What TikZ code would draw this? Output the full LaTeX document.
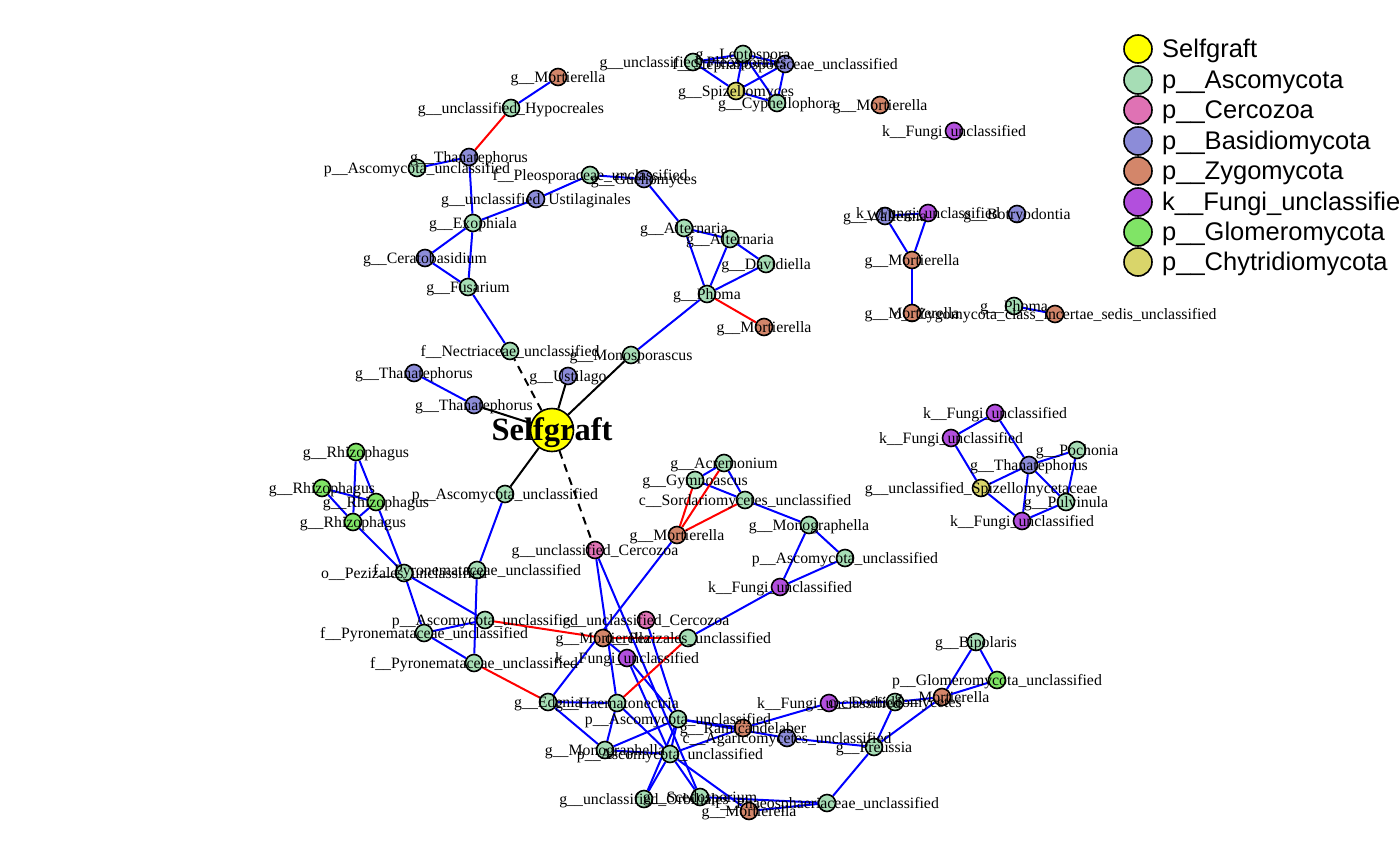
\documentclass[tikz,border=0pt]{standalone}
\usepackage{fontspec}
\setmainfont{Liberation Serif}
\newfontfamily\legendfont{Liberation Sans}
\pgfdeclarelayer{bg}
\pgfdeclarelayer{paper}
\pgfsetlayers{paper,bg,main}
\definecolor{casc}{HTML}{A6DDB5}
\definecolor{ccer}{HTML}{DF72B4}
\definecolor{cbas}{HTML}{8C8CD8}
\definecolor{czyg}{HTML}{D3866A}
\definecolor{cfun}{HTML}{B24FDD}
\definecolor{cglo}{HTML}{80E466}
\definecolor{cchy}{HTML}{D9D56A}
\definecolor{csel}{HTML}{FFFF00}
\tikzset{
  vtx/.style={circle, draw=black, line width=1.6pt, minimum size=17pt, inner sep=0pt},
  nasc/.style={fill=casc}, ncer/.style={fill=ccer}, nbas/.style={fill=cbas},
  nzyg/.style={fill=czyg}, nfun/.style={fill=cfun}, nglo/.style={fill=cglo},
  nchy/.style={fill=cchy}, nsel/.style={fill=csel},
  lbl/.style={anchor=base, inner sep=0pt, font=\fontsize{15.8}{15.8}\selectfont},
  eb/.style={draw=blue, line width=2pt},
  er/.style={draw=red, line width=2pt},
  ek/.style={draw=black, line width=2pt},
  ekd/.style={draw=black, line width=2pt, dash pattern=on 8pt off 6pt},
  legc/.style={circle, draw=black, line width=1.6pt, minimum size=28pt, inner sep=0pt},
  legt/.style={anchor=base west, inner sep=0pt, font=\legendfont\fontsize{25.5}{25.5}\selectfont},
}
\def\vlist{%
a1/558/77/nzyg/{g\_\_Mortierella},
a2/511/108/nasc/{g\_\_unclassified\_Hypocreales},
a3/469/157/nbas/{g\_\_Thanatephorus},
a4/417/168/nasc/{p\_\_Ascomycota\_unclassified},
a5/590/175/nasc/{f\_\_Pleosporaceae\_unclassified},
a6/644/179/nbas/{g\_\_Guehomyces},
a7/536/199/nbas/{g\_\_unclassified\_Ustilaginales},
a8/473/223/nasc/{g\_\_Exophiala},
a9/425/258/nbas/{g\_\_Ceratobasidium},
a10/468/287/nasc/{g\_\_Fusarium},
a11/510/351/nasc/{f\_\_Nectriaceae\_unclassified},
a12/414/373/nbas/{g\_\_Thanatephorus},
a13/474/405/nbas/{g\_\_Thanatephorus},
a14/568/376/nbas/{g\_\_Ustilago},
a15/631/355/nasc/{g\_\_Monosporascus},
a16/684/228/nasc/{g\_\_Alternaria},
a17/730/239/nasc/{g\_\_Alternaria},
a18/766/264/nasc/{g\_\_Davidiella},
a19/707/294/nasc/{g\_\_Phoma},
a20/764/327/nzyg/{g\_\_Mortierella},
b1/693/62/nasc/{g\_\_unclassified\_Pleosporales},
b2/743/54/nasc/{g\_\_Leptospora},
b3/785/64/nbas/{f\_\_Stephanosporaceae\_unclassified},
b4/736/91/nchy/{g\_\_Spizellomyces},
b5/777/103/nasc/{g\_\_Cyphellophora},
b6/880/105/nzyg/{g\_\_Mortierella},
b7/954/131/nfun/{k\_\_Fungi\_unclassified},
c1/885/216/nbas/{g\_\_Wallemia},
c2/928/213/nfun/{k\_\_Fungi\_unclassified},
c3/1017/214/nbas/{g\_\_Botryodontia},
c4/912/260/nzyg/{g\_\_Mortierella},
c5/912/313/nzyg/{g\_\_Mortierella},
c6/1014/306/nasc/{g\_\_Phoma},
c7/1055/314/nzyg/{o\_\_Zygomycota\_class\_incertae\_sedis\_unclassified},
d1/995/413/nfun/{k\_\_Fungi\_unclassified},
d2/951/438/nfun/{k\_\_Fungi\_unclassified},
d3/1077/450/nasc/{g\_\_Pochonia},
d4/1029/465/nbas/{g\_\_Thanatephorus},
d5/981/488/nchy/{g\_\_unclassified\_Spizellomycetaceae},
d6/1066/502/nasc/{g\_\_Pulvinula},
d7/1022/521/nfun/{k\_\_Fungi\_unclassified},
e1/356/452/nglo/{g\_\_Rhizophagus},
e2/322/488/nglo/{g\_\_Rhizophagus},
e3/376/502/nglo/{g\_\_Rhizophagus},
e4/353/522/nglo/{g\_\_Rhizophagus},
e5/404/573/nasc/{o\_\_Pezizales\_unclassified},
e6/477/570/nasc/{f\_\_Pyronemataceae\_unclassified},
e7/505/494/nasc/{p\_\_Ascomycota\_unclassified},
e8/485/620/nasc/{p\_\_Ascomycota\_unclassified},
e9/424/633/nasc/{f\_\_Pyronemataceae\_unclassified},
e10/474/663/nasc/{f\_\_Pyronemataceae\_unclassified},
f1/724/463/nasc/{g\_\_Acremonium},
f2/695/480/nasc/{g\_\_Gymnoascus},
f3/745/500/nasc/{c\_\_Sordariomycetes\_unclassified},
f4/677/535/nzyg/{g\_\_Mortierella},
f5/809/525/nasc/{g\_\_Monographella},
f6/845/558/nasc/{p\_\_Ascomycota\_unclassified},
f7/780/587/nfun/{k\_\_Fungi\_unclassified},
f8/595/550/ncer/{g\_\_unclassified\_Cercozoa},
g1/646/620/ncer/{g\_\_unclassified\_Cercozoa},
g2/603/638/nzyg/{g\_\_Mortierella},
g3/688/638/nasc/{o\_\_Pezizales\_unclassified},
g4/627/658/nfun/{k\_\_Fungi\_unclassified},
g5/548/702/nasc/{g\_\_Edenia},
g6/617/703/nasc/{g\_\_Haematonectria},
g7/678/719/nasc/{p\_\_Ascomycota\_unclassified},
g8/743/728/nzyg/{g\_\_Ramicandelaber},
g9/605/750/nasc/{g\_\_Monographella},
g10/670/754/nasc/{p\_\_Ascomycota\_unclassified},
g11/644/799/nasc/{g\_\_unclassified\_Orbiliales},
g12/700/797/nasc/{g\_\_Scedosporium},
g13/749/811/nzyg/{g\_\_Mortierella},
g14/827/803/nasc/{f\_\_Phaeosphaeriaceae\_unclassified},
h1/829/703/nfun/{k\_\_Fungi\_unclassified},
h2/895/702/nasc/{c\_\_Dothideomycetes},
h3/942/697/nzyg/{g\_\_Mortierella},
h4/976/642/nasc/{g\_\_Bipolaris},
h5/997/680/nglo/{p\_\_Glomeromycota\_unclassified},
h6/787/738/nbas/{c\_\_Agaricomycetes\_unclassified},
h7/874/747/nasc/{g\_\_Preussia}}
\begin{document}
\begin{tikzpicture}[x=1pt,y=-1pt]
\useasboundingbox (0,0) rectangle (1400,865);
\clip (0,0) rectangle (1400,865);
\begin{pgfonlayer}{paper}
\fill[white] (0,0) rectangle (1400,865);
\end{pgfonlayer}
% vertices
\node[circle, draw=black, line width=1.6pt, minimum size=43pt, inner sep=0pt, nsel] (S) at (552,430) {};
\foreach \n/\x/\y/\s/\t in \vlist { \node[vtx,\s] (\n) at (\x,\y) {}; }
% edges
\begin{pgfonlayer}{bg}
\foreach \u/\v in {a1/a2, a3/a4, a3/a8, a8/a7, a7/a5, a5/a6, a6/a16, a8/a9, a8/a10, a9/a10, a10/a11, a12/a13, a15/a19, a16/a19, a17/a19, a18/a19, a16/a17, a17/a18,
  b1/b2, b1/b3, b2/b3, b1/b4, b2/b4, b2/b5, b3/b4, b3/b5, b4/b5,
  c1/c2, c1/c4, c2/c4, c4/c5, c6/c7,
  d1/d2, d1/d4, d2/d5, d4/d3, d4/d5, d4/d6, d4/d7, d3/d6, d5/d7, d6/d7,
  e1/e3, e1/e4, e2/e3, e2/e4, e3/e4, e4/e5, e3/e5, e5/e8, e5/e9, e6/e7, e6/e10, e9/e8, e9/e10,
  f1/f2, f1/f3, f2/f3, f3/f5, f5/f6, f5/f7, f6/f7, f7/g3, f4/g5,
  f8/g6, f8/g12, g1/g7, g2/g4, g4/g7, g4/g10, g5/g6, g5/g9, g6/g9, g6/g10, g9/g7, g9/g10, g7/g10, g10/g11, g7/g11, g10/g12, g10/g13, g12/g14, g13/g14, g7/g8, g7/h6, g10/g8, g8/h1,
  h1/h2, h2/h3, h3/h4, h3/h5, h4/h5, h2/h7, h3/h7, h6/h7, h7/g14}
  { \draw[eb] (\u) -- (\v); }
\foreach \u/\v in {a2/a3, a19/a20, f4/f1, f4/f2, f4/f3, e8/g2, g2/g3, g3/g6, e10/g5}
  { \draw[er] (\u) -- (\v); }
\foreach \v in {a13, a14, a15, e7} { \draw[ek] (S) -- (\v); }
\foreach \v in {a11, f8} { \draw[ekd] (S) -- (\v); }
\end{pgfonlayer}
% labels
\foreach \n/\x/\y/\s/\t in \vlist { \node[lbl] (l\n) at (\x,{\y+5}) {\t}; }
\node[anchor=base, inner sep=0pt, font=\bfseries\fontsize{32.5}{32.5}\selectfont] (lS) at (552,440) {Selfgraft};
% legend
\foreach \i/\cy/\s/\t in {1/49/nsel/{Selfgraft}, 2/80/nasc/{p\_\_Ascomycota}, 3/110/ncer/{p\_\_Cercozoa}, 4/141/nbas/{p\_\_Basidiomycota}, 5/171/nzyg/{p\_\_Zygomycota}, 6/202/nfun/{k\_\_Fungi\_unclassified}, 7/232/nglo/{p\_\_Glomeromycota}, 8/262/nchy/{p\_\_Chytridiomycota}}
{ \node[legc,\s] (legc\i) at (1138,\cy) {};
  \node[legt] (legt\i) at (1162,{\cy+8}) {\t}; }
\end{tikzpicture}
\end{document}
